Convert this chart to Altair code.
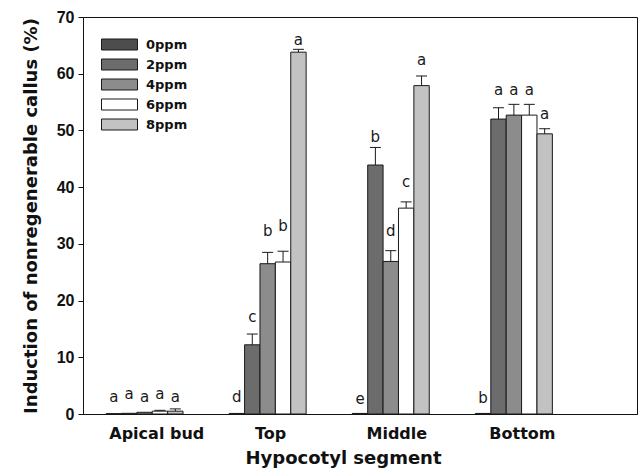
import altair as alt
import pandas as pd

groups = ["Apical bud", "Top", "Middle", "Bottom"]
series = ["0ppm", "2ppm", "4ppm", "6ppm", "8ppm"]
colors = ["#4d4d4d", "#6c6c6c", "#8c8c8c", "#ffffff", "#c2c2c2"]

# mean values per group (rows) and series (columns)
values = {
    "Apical bud": [0.06, 0.12, 0.3, 0.5, 0.5],
    "Top":        [0.1, 12.2, 26.5, 26.8, 63.8],
    "Middle":     [0.1, 43.9, 26.9, 36.3, 57.9],
    "Bottom":     [0.1, 52.0, 52.7, 52.7, 49.4],
}
errors = {
    "Apical bud": [0, 0, 0, 0.15, 0.4],
    "Top":        [0, 1.9, 2.0, 1.9, 0.5],
    "Middle":     [0, 3.1, 1.9, 1.1, 1.7],
    "Bottom":     [0, 2.0, 1.9, 1.9, 0.9],
}
letters = {
    "Apical bud": ["a", "a", "a", "a", "a"],
    "Top":        ["d", "c", "b", "b", "a"],
    "Middle":     ["e", "b", "d", "c", "a"],
    "Bottom":     ["b", "a", "a", "a", "a"],
}
letter_heights = {
    "Apical bud": [2.2, 2.6, 2.2, 2.6, 2.2],
    "Top":        [2.1, 16.3, 31.4, 32.2, 65.1],
    "Middle":     [1.8, 48.0, 31.3, 40.0, 61.6],
    "Bottom":     [2.0, 56.3, 56.3, 56.3, 52.1],
}
label_positions = [0.095, 1.02, 2.045, 3.065]

rows = []
for gi, g in enumerate(groups):
    for si, s in enumerate(series):
        rows.append({
            "group": g, "gi": gi, "series": s, "si": si,
            "value": values[g][si], "err": errors[g][si],
            "letter": letters[g][si], "ly": letter_heights[g][si],
        })
df = pd.DataFrame(rows)

BW = 0.125
xs = alt.Scale(domain=[-0.5, 4], nice=False, zero=False)
ys = alt.Scale(domain=[0, 70], nice=False, zero=False)

base = alt.Chart(df).transform_calculate(
    xl=f"datum.gi + (datum.si - 2.5) * {BW}",
    xr=f"datum.gi + (datum.si - 1.5) * {BW}",
    xc=f"datum.gi + (datum.si - 2) * {BW}",
    top="datum.value + datum.err",
)

label_expr = "['Apical bud','Top','Middle','Bottom'][round(datum.value)]"

bars = base.mark_rect(stroke="#1a1a1a", strokeWidth=1).encode(
    x=alt.X("xl:Q", scale=xs, axis=alt.Axis(
        values=label_positions, labelExpr=label_expr, ticks=False, tickSize=0,
        labelPadding=11, grid=False, title="Hypocotyl segment",
        labelFont="DejaVu Sans", labelFontSize=16,
        titleX=260, titleY=49, titleBaseline="alphabetic", titleAnchor="middle",
        titleAlign="center")),
    x2="xr:Q",
    y=alt.Y("value:Q", scale=ys, axis=alt.Axis(
        values=list(range(0, 71, 10)), tickSize=5, labelPadding=4, grid=False,
        labelFont="Liberation Sans", labelFontSize=16,
        title="Induction of nonregenerable callus (%)",
        titleX=-47, titleBaseline="alphabetic")),
    y2=alt.datum(0),
    fill=alt.Fill("series:N", scale=alt.Scale(domain=series, range=colors),
                  legend=alt.Legend(
                      title=None, orient="none", legendX=30, legendY=21,
                      padding=0, symbolType="M-3.2727,-1H3.2727V1H-3.2727Z",
                      symbolSize=121, symbolStrokeColor="#1a1a1a",
                      symbolStrokeWidth=1, labelOffset=20, rowPadding=5,
                      labelFont="DejaVu Sans", labelFontWeight="bold",
                      labelFontSize=13, labelColor="#111")),
)

rules = base.transform_filter("datum.err > 0").mark_rule(
    color="#1a1a1a", strokeWidth=1).encode(
    x=alt.X("xc:Q", scale=xs), y=alt.Y("value:Q", scale=ys), y2="top:Q")

caps = base.transform_filter("datum.err > 0").mark_tick(
    orient="horizontal", size=11, thickness=1, color="#1a1a1a", opacity=1).encode(
    x=alt.X("xc:Q", scale=xs), y=alt.Y("top:Q", scale=ys))

texts = base.mark_text(baseline="alphabetic", align="center",
                       font="DejaVu Sans", fontSize=15, color="#1a1a1a").encode(
    x=alt.X("xc:Q", scale=xs), y=alt.Y("ly:Q", scale=ys), text="letter:N")

chart = alt.layer(bars, rules, caps, texts).properties(
    width=554, height=397,
    autosize=alt.AutoSizeParams(type="none"),
    padding={"left": 83, "top": 17, "right": 1, "bottom": 57},
).configure_view(stroke="#111", strokeWidth=1).configure_axis(
    domainColor="#111", domainWidth=1, tickColor="#111",
    labelFontWeight="bold", labelColor="#111",
    titleFont="DejaVu Sans", titleFontWeight="bold", titleColor="#111",
    titleFontSize=18,
)

chart.save("out.html", embed_options={"renderer": "svg", "actions": False})
